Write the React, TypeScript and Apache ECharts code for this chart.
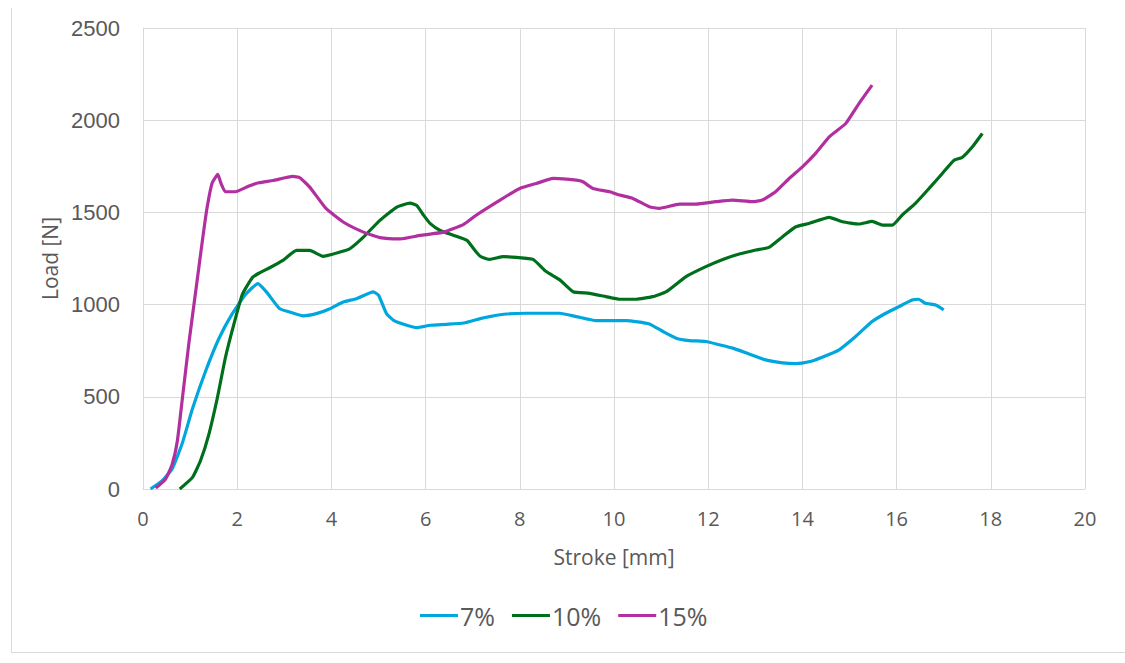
import React, { useEffect, useRef } from "react";
import * as echarts from "echarts";

const seriesNames = ["7%", "10%", "15%"];
const seriesColors = ["#00A6DE", "#006F1C", "#B22FA0"];

const stroke7 = [0.16, 0.41, 0.62, 0.83, 1.05, 1.33, 1.61, 1.89, 2.18, 2.44, 2.62, 2.9, 3.11, 3.4, 3.68, 3.97, 4.25, 4.53, 4.89, 5.0, 5.17, 5.32, 5.6, 5.81, 6.1, 6.45, 6.81, 7.16, 7.36, 7.72, 8.14, 8.85, 9.2, 9.62, 10.26, 10.75, 11.04, 11.32, 11.6, 11.95, 12.24, 12.52, 12.87, 13.22, 13.58, 13.86, 14.14, 14.42, 14.78, 15.13, 15.48, 15.77, 16.05, 16.33, 16.47, 16.61, 16.83, 17.0];
const load7 = [0, 45, 110, 245, 435, 640, 815, 948, 1056, 1114, 1069, 978, 960, 939, 951, 978, 1014, 1032, 1069, 1051, 951, 915, 888, 875, 888, 893, 900, 924, 935, 949, 953, 953, 935, 913, 913, 895, 854, 818, 805, 800, 782, 764, 732, 700, 684, 680, 690, 715, 755, 827, 908, 953, 989, 1025, 1029, 1007, 998, 971];

const stroke10 = [0.78, 1.05, 1.22, 1.4, 1.58, 1.75, 1.93, 2.11, 2.32, 2.46, 2.69, 2.97, 3.26, 3.54, 3.82, 4.18, 4.39, 4.68, 5.03, 5.39, 5.67, 5.81, 5.96, 6.1, 6.31, 6.6, 6.88, 7.02, 7.16, 7.36, 7.65, 7.93, 8.28, 8.56, 8.85, 9.13, 9.48, 9.83, 10.12, 10.47, 10.82, 11.11, 11.53, 11.95, 12.31, 12.66, 13.01, 13.29, 13.58, 13.86, 14.14, 14.57, 14.85, 15.2, 15.48, 15.7, 15.91, 16.12, 16.4, 16.69, 16.97, 17.22, 17.39, 17.61, 17.82];
const load10 = [0, 63, 153, 298, 496, 713, 894, 1056, 1146, 1170, 1200, 1240, 1294, 1294, 1262, 1285, 1303, 1366, 1457, 1529, 1550, 1538, 1484, 1439, 1402, 1375, 1348, 1303, 1262, 1245, 1260, 1256, 1245, 1179, 1134, 1070, 1061, 1043, 1029, 1029, 1043, 1070, 1152, 1206, 1245, 1274, 1296, 1310, 1368, 1422, 1440, 1473, 1449, 1437, 1451, 1431, 1431, 1486, 1549, 1630, 1711, 1783, 1798, 1856, 1928];

const stroke15 = [0.27, 0.48, 0.62, 0.73, 0.83, 0.98, 1.12, 1.26, 1.36, 1.47, 1.59, 1.65, 1.75, 1.96, 2.25, 2.46, 2.76, 3.18, 3.33, 3.54, 3.89, 4.25, 4.68, 5.03, 5.46, 5.88, 6.38, 6.81, 7.08, 7.58, 8.0, 8.35, 8.71, 9.2, 9.34, 9.55, 9.91, 10.12, 10.4, 10.75, 10.96, 11.39, 11.74, 12.16, 12.52, 12.94, 13.15, 13.43, 13.72, 14.0, 14.28, 14.57, 14.92, 15.2, 15.48];
const load15 = [5, 54, 135, 262, 478, 803, 1074, 1345, 1525, 1661, 1706, 1661, 1612, 1612, 1643, 1661, 1673, 1695, 1688, 1637, 1520, 1448, 1393, 1363, 1356, 1375, 1393, 1435, 1486, 1567, 1630, 1657, 1684, 1675, 1666, 1630, 1612, 1594, 1576, 1531, 1522, 1545, 1545, 1558, 1567, 1558, 1567, 1612, 1684, 1747, 1820, 1910, 1982, 2090, 2190];

const xTicks = [0, 2, 4, 6, 8, 10, 12, 14, 16, 18, 20];
const yTicks = [0, 500, 1000, 1500, 2000, 2500];

const strokes = [stroke7, stroke10, stroke15];
const loads = [load7, load10, load15];

export default function App() {
  const ref = useRef<HTMLDivElement>(null);
  useEffect(() => {
    if (!ref.current) return;
    const chart = echarts.init(ref.current, null, { renderer: "svg" });
    const grey = "#595959";
    const sans = "'Open Sans', sans-serif";
    chart.setOption({
      animation: false,
      backgroundColor: "#ffffff",
      grid: { left: 143, right: 40, top: 28, bottom: 174, containLabel: false },
      xAxis: {
        type: "value",
        min: xTicks[0],
        max: xTicks[xTicks.length - 1],
        interval: 2,
        name: "Stroke [mm]",
        nameLocation: "middle",
        nameGap: 57,
        nameTextStyle: { color: grey, fontSize: 21, fontFamily: sans },
        axisLine: { show: true, lineStyle: { color: "#d9d9d9", width: 1 } },
        axisTick: { show: false },
        axisLabel: { color: grey, fontSize: 20, margin: 19, fontFamily: sans },
        splitLine: { show: true, lineStyle: { color: "#d9d9d9", width: 1 } },
      },
      yAxis: {
        type: "value",
        min: yTicks[0],
        max: yTicks[yTicks.length - 1],
        interval: 500,
        name: "Load [N]",
        nameLocation: "middle",
        nameRotate: 90,
        nameGap: 83,
        nameTextStyle: { color: grey, fontSize: 21, fontFamily: sans },
        axisLine: { show: true, lineStyle: { color: "#d9d9d9", width: 1 } },
        axisTick: { show: false },
        axisLabel: {
          color: grey,
          fontSize: 22,
          margin: 23,
          fontFamily: "'Liberation Sans', Arial, sans-serif",
          formatter: (v: number) => String(v),
        },
        splitLine: { show: true, lineStyle: { color: "#d9d9d9", width: 1 } },
      },
      legend: {
        left: 415,
        top: 598,
        icon: "rect",
        itemWidth: 38,
        itemHeight: 3,
        itemGap: 17,
        textStyle: { color: grey, fontSize: 25, fontFamily: sans, padding: [0, 0, 0, -3] },
        data: seriesNames,
      },
      graphic: [
        { type: "line", shape: { x1: 11.5, y1: 8, x2: 11.5, y2: 652 }, style: { stroke: "#d9d9d9", lineWidth: 1 } },
        { type: "line", shape: { x1: 11, y1: 652.5, x2: 1125, y2: 652.5 }, style: { stroke: "#d9d9d9", lineWidth: 1 } },
      ],
      series: seriesNames.map((n, i) => ({
        name: n,
        type: "line",
        showSymbol: false,
        smooth: 0.15,
        color: seriesColors[i],
        lineStyle: { width: 3.2, color: seriesColors[i] },
        data: strokes[i].map((x, j) => [x, loads[i][j]]),
      })),
    });
    return () => chart.dispose();
  }, []);
  return (
    <div
      ref={ref}
      style={{ position: "absolute", left: 0, top: 0, width: 1125, height: 663 }}
    />
  );
}
